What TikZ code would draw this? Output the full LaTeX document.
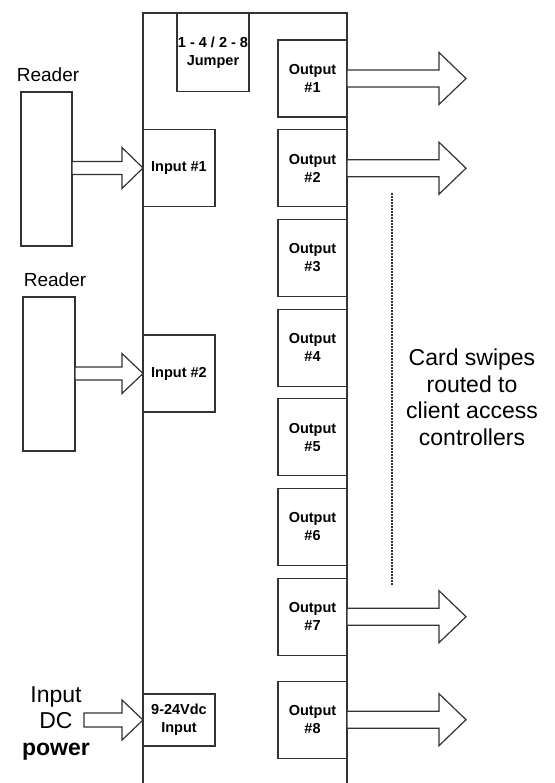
\documentclass[tikz,border=0pt]{standalone}
\usepackage{fontspec}
\setmainfont{Liberation Sans}
\usetikzlibrary{positioning, calc}

% hollow block arrow: from, to, shaft half width, head half width, head length
\newcommand{\hollowarrow}[5]{%
  \draw[fatarrow] let \p1=(#1), \p2=(#2) in
    (\x1,\y2+#3pt) -- (\x2-#5pt,\y2+#3pt) -- (\x2-#5pt,\y2+#4pt) -- (\p2)
    -- (\x2-#5pt,\y2-#4pt) -- (\x2-#5pt,\y2-#3pt) -- (\x1,\y2-#3pt) -- cycle;}

\begin{document}
\begin{tikzpicture}[x=1pt, y=-1pt,
  every node/.style={inner sep=0pt, outer sep=0pt, align=center},
  box/.style={draw=black!80, line width=1.2pt, fill=white, rectangle, font=\fontsize{14.5}{18}\selectfont\bfseries},
  outbox/.style={box, minimum width=69pt, minimum height=77pt},
  inbox/.style={box, minimum width=72pt, minimum height=77pt},
  readerbox/.style={draw=black!80, line width=1.2pt, fill=white, minimum width=52pt, minimum height=154pt},
  fatarrow/.style={draw=black!80, line width=1.2pt, fill=white, line join=miter},
  readertext/.style={font=\fontsize{19}{22}\selectfont},
  bigtext/.style={font=\fontsize{23}{26.5}\selectfont}]

    \useasboundingbox (0,0) rectangle (554,783);

    % Main board
    \node (board) [draw=black!80, line width=1.2pt, minimum width=204pt, minimum height=800pt] at (245,413) {};

    % Jumper
    \node (jumper) [box, minimum width=72pt, minimum height=78pt] at (213,52.5) {1 - 4 / 2 - 8\\Jumper};

    % Output column
    \node (out1) [outbox] at (312.5,78.5) {Output\\\#1};
    \node (out2) [outbox, below=12.7pt of out1] {Output\\\#2};
    \node (out3) [outbox, below=12.7pt of out2] {Output\\\#3};
    \node (out4) [outbox, below=12.7pt of out3] {Output\\\#4};
    \node (out5) [outbox, below=12.7pt of out4] {Output\\\#5};
    \node (out6) [outbox, below=12.7pt of out5] {Output\\\#6};
    \node (out7) [outbox, below=12.7pt of out6] {Output\\\#7};
    \node (out8) [outbox, below=26pt of out7] {Output\\\#8};

    % Input column
    \node (in1) [inbox] at (179,168) {Input \#1};
    \node (in2) [inbox] at (179,373.5) {Input \#2};
    \node (pwr) [inbox, minimum height=52pt] at (179,720) {9-24Vdc\\Input};

    % Readers
    \node (reader1) [readerbox, minimum width=51pt] at (46.5,169) {};
    \node (reader1text) [readertext] at (48,75) {Reader};
    \node (reader2) [readerbox] at (49,374) {};
    \node (reader2text) [readertext] at (55,280) {Reader};

    % Texts
    \node (powertext) [bigtext] at (56,723) {Input\\DC\\\textbf{power}};
    \node (cardtext) [bigtext] at (472,397.5) {Card swipes\\routed to\\client access\\controllers};

    % Arrows into the board
    \hollowarrow{reader1.east}{in1.west}{6.5}{20.5}{21}
    \hollowarrow{reader2.east}{in2.west}{6.5}{20}{21}
    \coordinate (pwrtail) at (84,721);
    \hollowarrow{pwrtail}{pwr.west}{7}{20}{21}

    % Arrows out of the board
    \coordinate (tip1) at ([xshift=119pt]out1.east);
    \coordinate (tip2) at ([xshift=119pt]out2.east);
    \coordinate (tip7) at ([xshift=119pt]out7.east);
    \coordinate (tip8) at ([xshift=119pt]out8.east);
    \hollowarrow{out1.east}{tip1}{8.5}{26}{27}
    \hollowarrow{out2.east}{tip2}{8.5}{26}{27}
    \hollowarrow{out7.east}{tip7}{8.5}{26}{27}
    \hollowarrow{out8.east}{tip8}{8.5}{26}{27}

    % Dotted continuation
    \coordinate (dottop) at (392,193);
    \coordinate (dotbot) at (392,586);
    \draw[black!80, line width=1.1pt, dash pattern=on 2pt off 1pt] (dottop) -- (dotbot);

\end{tikzpicture}
\end{document}
